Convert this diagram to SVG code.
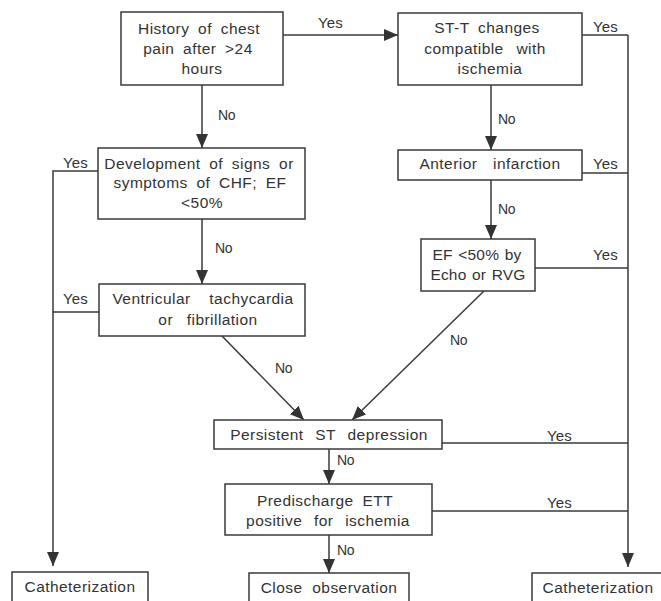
<svg xmlns="http://www.w3.org/2000/svg" width="661" height="601" viewBox="0 0 661 601">
<defs>
<marker id="ah" markerUnits="userSpaceOnUse" markerWidth="14" markerHeight="12" viewBox="0 0 14 12" refX="14" refY="6" orient="auto">
<path d="M0,0 L14,6 L0,12 Z" fill="#333"/>
</marker>
<style>
.box{fill:#fff;stroke:#3a3a3a;stroke-width:1.5}
.t{font-family:"Liberation Sans",Arial,sans-serif;font-size:15.5px;fill:#333;text-anchor:middle;letter-spacing:0.45px;word-spacing:4px}
.l{font-family:"Liberation Sans",Arial,sans-serif;font-size:15px;fill:#333;letter-spacing:0.2px}
.n{font-family:"Liberation Sans",Arial,sans-serif;font-size:14px;fill:#333;letter-spacing:-0.3px}
.c{fill:none;stroke:#3a3a3a;stroke-width:1.5}
.a{fill:none;stroke:#3a3a3a;stroke-width:1.5;marker-end:url(#ah)}
</style>
</defs>
<rect width="661" height="601" fill="#fff"/>
<g id="connectors">
<line class="a" x1="283" y1="35" x2="398" y2="35"/>
<polyline class="c" points="582,35 628,35"/>
<line class="a" x1="628" y1="35" x2="628" y2="567"/>
<line class="c" x1="582" y1="173" x2="628" y2="173"/>
<line class="c" x1="535" y1="268" x2="628" y2="268"/>
<line class="c" x1="442" y1="443" x2="628" y2="443"/>
<line class="c" x1="432" y1="511" x2="628" y2="511"/>
<line class="a" x1="202" y1="85" x2="202" y2="148"/>
<polyline class="c" points="98,171 53,171 53,300"/>
<line class="a" x1="53" y1="300" x2="53" y2="566"/>
<line class="c" x1="99" y1="312" x2="53" y2="312"/>
<line class="a" x1="202" y1="219" x2="202" y2="284"/>
<line class="a" x1="222" y1="336" x2="304" y2="420"/>
<line class="a" x1="484" y1="291" x2="352" y2="420"/>
<line class="a" x1="491" y1="85" x2="491" y2="150"/>
<line class="a" x1="491" y1="180" x2="491" y2="239"/>
<line class="a" x1="329" y1="449" x2="329" y2="484"/>
<line class="a" x1="329" y1="535" x2="329" y2="573"/>
<text class="l" x="318" y="28">Yes</text>
<text class="l" x="593" y="32">Yes</text>
<text class="l" x="593" y="169">Yes</text>
<text class="l" x="593" y="260">Yes</text>
<text class="l" x="547" y="441">Yes</text>
<text class="l" x="547" y="508">Yes</text>
<text class="l" x="63" y="168">Yes</text>
<text class="l" x="63" y="304">Yes</text>
<text class="n" x="218" y="120">No</text>
<text class="n" x="215" y="253">No</text>
<text class="n" x="498" y="124">No</text>
<text class="n" x="498" y="214">No</text>
<text class="n" x="450" y="345">No</text>
<text class="n" x="275" y="373">No</text>
<text class="n" x="337" y="465">No</text>
<text class="n" x="337" y="555">No</text>
</g>
<g id="history">
<rect class="box" x="121" y="12" width="162" height="73"/>
<text class="t" x="199" y="34">History of chest</text>
<text class="t" x="198" y="54">pain after &gt;24</text>
<text class="t" x="202" y="74">hours</text>
</g>
<g id="stt">
<rect class="box" x="398" y="13" width="184" height="72"/>
<text class="t" x="487" y="33">ST-T changes</text>
<text class="t" x="485" y="54" style="word-spacing:8px">compatible with</text>
<text class="t" x="490" y="74">ischemia</text>
</g>
<g id="chf">
<rect class="box" x="98" y="148" width="207" height="71"/>
<text class="t" x="199" y="169">Development of signs or</text>
<text class="t" x="200" y="188">symptoms of CHF; EF</text>
<text class="t" x="202" y="208">&lt;50%</text>
</g>
<g id="vt">
<rect class="box" x="99" y="284" width="206" height="52"/>
<text class="t" x="203" y="304" style="word-spacing:14px">Ventricular tachycardia</text>
<text class="t" x="208" y="325" style="word-spacing:9px">or fibrillation</text>
</g>
<g id="anterior">
<rect class="box" x="398" y="150" width="184" height="30"/>
<text class="t" x="490" y="169" style="word-spacing:11px">Anterior infarction</text>
</g>
<g id="ef">
<rect class="box" x="421" y="239" width="114" height="52"/>
<text class="t" x="477" y="260" style="letter-spacing:0.2px;word-spacing:1px">EF &lt;50% by</text>
<text class="t" x="478" y="280" style="letter-spacing:0.2px;word-spacing:1px">Echo or RVG</text>
</g>
<g id="persistent">
<rect class="box" x="214" y="420" width="228" height="29"/>
<text class="t" x="329" y="440" style="word-spacing:7px">Persistent ST depression</text>
</g>
<g id="predischarge">
<rect class="box" x="225" y="484" width="207" height="51"/>
<text class="t" x="325" y="506">Predischarge ETT</text>
<text class="t" x="328" y="526" style="word-spacing:7px">positive for ischemia</text>
</g>
<g id="close">
<rect class="box" x="249" y="573" width="160" height="40"/>
<text class="t" x="329" y="593" style="word-spacing:5px">Close observation</text>
</g>
<g id="cath-left">
<rect class="box" x="12" y="572" width="136" height="40"/>
<text class="t" x="80" y="592">Catheterization</text>
</g>
<g id="cath-right">
<rect class="box" x="532" y="573" width="135" height="40"/>
<text class="t" x="598" y="593">Catheterization</text>
</g>
</svg>
